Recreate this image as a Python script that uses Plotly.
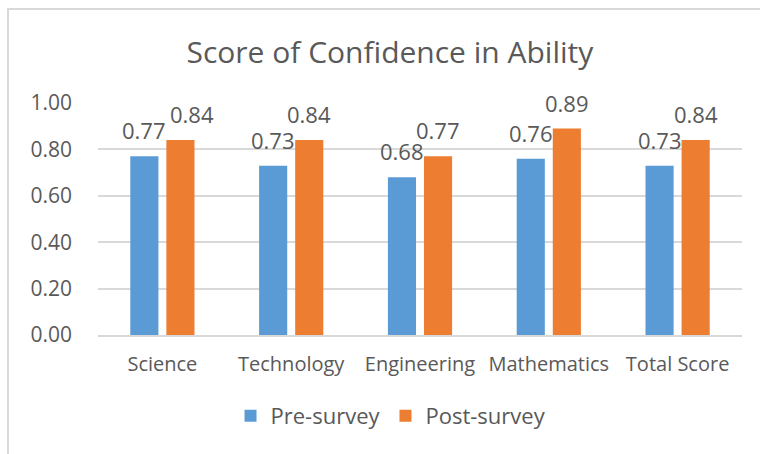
import plotly.graph_objects as go

categories = ["Science", "Technology", "Engineering", "Mathematics", "Total Score"]
pre_survey = [0.77, 0.73, 0.68, 0.76, 0.73]
post_survey = [0.84, 0.84, 0.77, 0.89, 0.84]
tick_vals = [0.0, 0.2, 0.4, 0.6, 0.8, 1.0]
tick_text = ["0.00", "0.20", "0.40", "0.60", "0.80", "1.00"]

BLUE = "#5B9BD5"
ORANGE = "#ED7D31"
TEXT = "#595959"
GRID = "#D9D9D9"
FONT = "Open Sans"

fig = go.Figure()
fig.add_trace(go.Bar(name="Pre-survey", x=categories, y=pre_survey,
                     marker=dict(color=BLUE, line=dict(width=0))))
fig.add_trace(go.Bar(name="Post-survey", x=categories, y=post_survey,
                     marker=dict(color=ORANGE, line=dict(width=0))))

annotations = []
for i, c in enumerate(categories):
    annotations.append(dict(x=c, y=pre_survey[i], xref="x", yref="y",
                            text=f"{pre_survey[i]:.2f}", showarrow=False,
                            xshift=-18, yshift=26, yanchor="middle",
                            font=dict(family=FONT, size=22, color=TEXT)))
    annotations.append(dict(x=c, y=post_survey[i], xref="x", yref="y",
                            text=f"{post_survey[i]:.2f}", showarrow=False,
                            xshift=18 + (12 if i == 0 else 0), yshift=26, yanchor="middle",
                            font=dict(family=FONT, size=22, color=TEXT)))

fig.update_layout(
    width=760, height=454,
    margin=dict(l=98, r=18, t=103, b=119),
    paper_bgcolor="white", plot_bgcolor="white",
    barmode="group", bargap=0.44, bargroupgap=0.22,
    font=dict(family=FONT, color=TEXT),
    title=dict(text="Score of Confidence in Ability", x=0.513, xanchor="center",
               y=0.885, yanchor="middle",
               font=dict(family=FONT, size=30, color=TEXT)),
    xaxis=dict(showgrid=False, showline=True, linecolor=GRID, linewidth=2,
               ticks="", tickfont=dict(family=FONT, size=20, color=TEXT),
               ticklabelstandoff=10),
    yaxis=dict(range=[0, 1.0], tickvals=tick_vals, ticktext=tick_text,
               showgrid=True, gridcolor=GRID, gridwidth=2, zeroline=False,
               showline=False, ticks="",
               tickfont=dict(family=FONT, size=21, color=TEXT),
               ticklabelstandoff=25),
    legend=dict(orientation="h", x=0.455, xanchor="center", y=-0.349, yanchor="middle",
                font=dict(family=FONT, size=22, color=TEXT),
                itemwidth=30, traceorder="normal"),
    annotations=annotations,
    shapes=[dict(type="rect", xref="paper", yref="paper",
                 x0=-0.1398, x1=1.3, y0=-1.0, y1=1.405,
                 line=dict(color=GRID, width=2), layer="below")],
)

fig.write_html("out.html", config={"displayModeBar": False},
               post_script="document.body.style.margin='0';")
